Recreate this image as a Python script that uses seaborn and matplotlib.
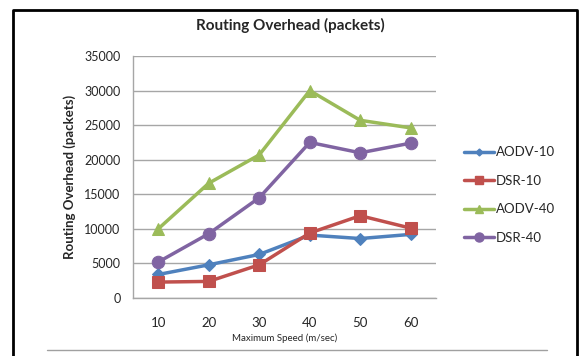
import pandas as pd
import matplotlib
matplotlib.use("Agg")
import matplotlib.pyplot as plt
import seaborn as sns
from matplotlib.lines import Line2D

# data
speeds = ["10", "20", "30", "40", "50", "60"]
aodv_10 = [3400, 4800, 6300, 9100, 8600, 9200]
dsr_10 = [2300, 2400, 4800, 9400, 11900, 10100]
aodv_40 = [10000, 16600, 20700, 30000, 25700, 24600]
dsr_40 = [5200, 9300, 14500, 22500, 21000, 22400]

series = {"AODV-10": aodv_10, "DSR-10": dsr_10, "AODV-40": aodv_40, "DSR-40": dsr_40}
colors = {"AODV-10": "#4F81BD", "DSR-10": "#C0504D", "AODV-40": "#9BBB59", "DSR-40": "#8064A2"}
markers = {"AODV-10": "D", "DSR-10": "s", "AODV-40": "^", "DSR-40": "o"}
msizes = {"AODV-10": 6, "DSR-10": 8, "AODV-40": 8, "DSR-40": 9}

rows = []
for name, vals in series.items():
    for s, v in zip(speeds, vals):
        rows.append({"speed": s, "overhead": v, "series": name})
df = pd.DataFrame(rows)

sns.set_style("white")
plt.rcParams["font.family"] = ["Lato", "DejaVu Sans"]

W, H = 581, 356
fig = plt.figure(figsize=(W / 100, H / 100), dpi=100)
ax = fig.add_axes([133 / W, (H - 298) / H, 303 / W, 242 / H])

for name in series:
    sub = df[df["series"] == name]
    sns.lineplot(data=sub, x="speed", y="overhead", ax=ax, color=colors[name],
                 marker=markers[name], markersize=msizes[name], linewidth=2.5,
                 markeredgecolor=colors[name], label=name, sort=False)

ax.set_xlim(-0.5, len(speeds) - 0.5)
ax.set_ylim(0, 35000)
ax.set_yticks(range(0, 35001, 5000))
ax.yaxis.grid(True, color="#A6A6A6", linewidth=1)
ax.set_axisbelow(True)
for side in ["top", "right"]:
    ax.spines[side].set_visible(False)
for side in ["left", "bottom"]:
    ax.spines[side].set_color("#A6A6A6")
    ax.spines[side].set_linewidth(1)
ax.tick_params(axis="y", length=0, pad=9, labelsize=9, labelcolor="#262626")
ax.tick_params(axis="x", length=0, pad=14, labelsize=9.5, labelcolor="#262626")

ax.set_ylabel("Routing Overhead (packets)", fontsize=9.5, fontweight="bold", labelpad=6)
ax.set_xlabel("Maximum Speed (m/sec)", fontsize=7, labelpad=3)

handles = [Line2D([], [], color=colors[n], marker=markers[n], markersize=msizes[n] - 2.5,
                  linewidth=2.5) for n in series]
ax.legend(handles, list(series), loc="center left", bbox_to_anchor=(452 / W, (H - 195) / H),
          bbox_transform=fig.transFigure, frameon=False, fontsize=9.5,
          handlelength=2.3, handletextpad=0.15, labelspacing=1.25)

fig.text(290 / W, 1 - 25 / H, "Routing Overhead (packets)", ha="center", va="center",
         fontsize=11, fontweight="bold")

# outer chart border and bottom rule
fig.add_artist(Line2D([13 / W, 13 / W, 577 / W, 577 / W], [0, 1 - 10 / H, 1 - 10 / H, 0],
                      transform=fig.transFigure, color="black", linewidth=2))
fig.add_artist(Line2D([47 / W, 547 / W], [1 - 350 / H, 1 - 350 / H],
                      transform=fig.transFigure, color="#A0A0A0", linewidth=1))

fig.savefig("out.png", dpi=100)
